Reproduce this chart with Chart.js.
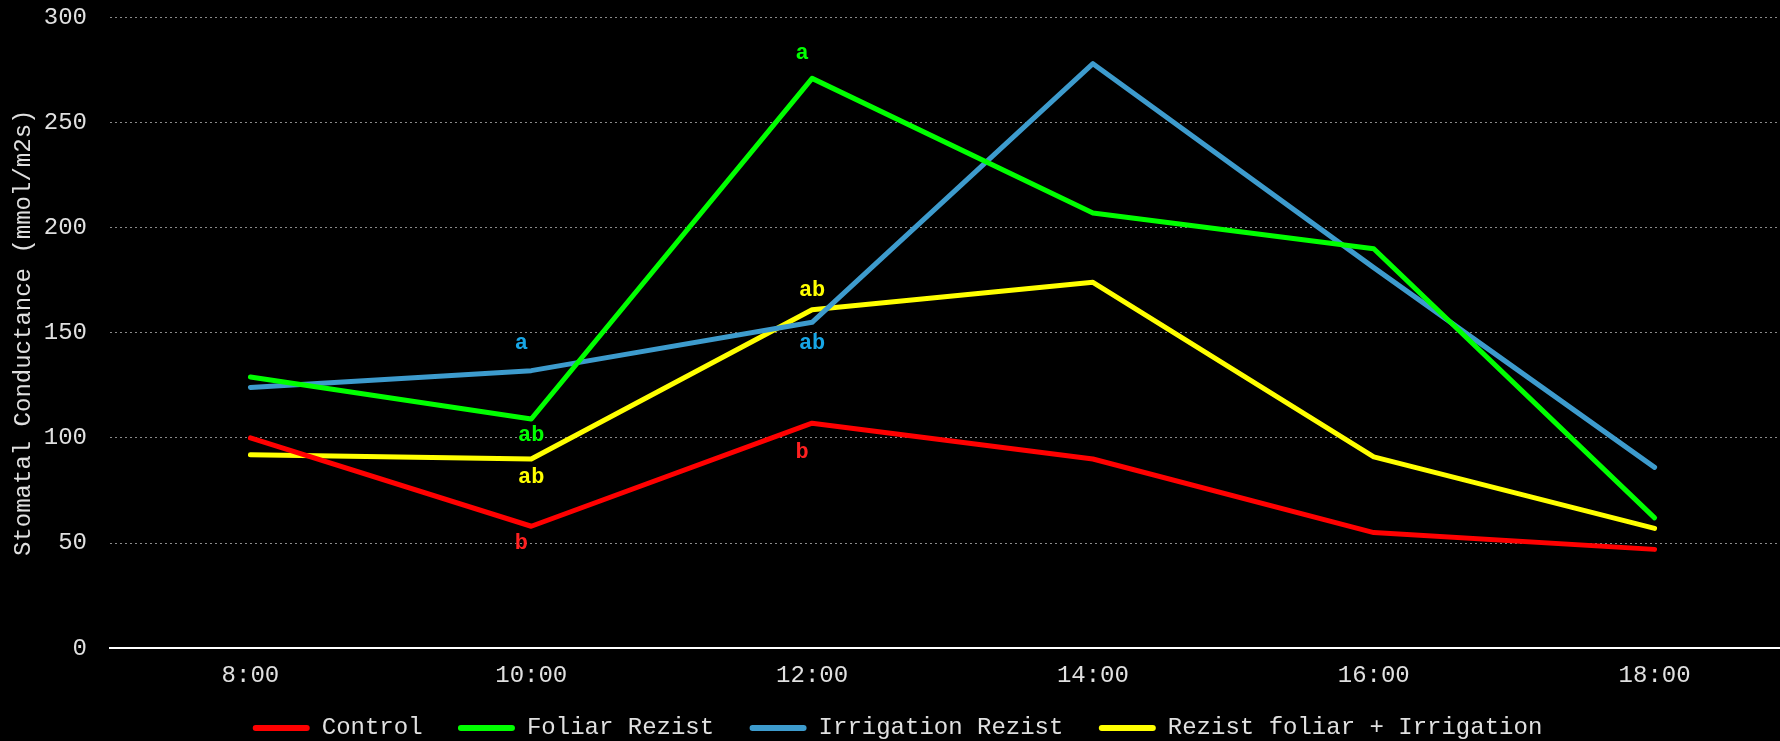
<!DOCTYPE html>
<html>
<head>
<meta charset="utf-8">
<script src="https://cdn.jsdelivr.net/npm/chart.js@4"></script>
<style>
  html, body { margin: 0; padding: 0; background: #000; overflow: hidden; }
  /* the plot runs slightly past the right edge of the window, as in the original */
  #wrap { width: 1795px; height: 741px; }
</style>
</head>
<body>
<div id="wrap"><canvas id="gsChart"></canvas></div>
<script>
const times = ["8:00", "10:00", "12:00", "14:00", "16:00", "18:00"];

const control = [100, 58, 107, 90, 55, 47];
const foliarRezist = [129, 109, 271, 207, 190, 62];
const irrigationRezist = [124, 132, 155, 278, 181, 86];
const foliarIrrigation = [92, 90, 161, 174, 91, 57];

// significance letters: which time, at what y value, text, series index
const letterTimes = ["12:00", "10:00", "10:00", "12:00", "12:00", "10:00", "10:00", "12:00"];
const letterValues = [283, 101, 145, 145, 170, 81, 50, 93];
const letterTexts = ["a", "ab", "a", "ab", "ab", "ab", "b", "b"];
const letterSeries = [1, 1, 2, 2, 3, 3, 0, 0];

const lineColors = ["#ff0000", "#00ff00", "#3d9bcd", "#ffff00"];
const letterColors = ["#ff2020", "#00ff00", "#17a6e6", "#ffff00"];

const monoFont = "'Courier New', 'Liberation Mono', monospace";

const letterPlugin = {
  id: "letters",
  afterDatasetsDraw(chart) {
    const ctx = chart.ctx;
    const x = chart.scales.x;
    const y = chart.scales.y;
    ctx.save();
    ctx.font = "bold 22px " + monoFont;
    ctx.textAlign = "center";
    ctx.textBaseline = "middle";
    letterTexts.forEach((t, i) => {
      // single letters sit a little left of the category, like the original
      const shift = t.length === 1 ? -10 : 0;
      ctx.fillStyle = letterColors[letterSeries[i]];
      ctx.fillText(t, x.getPixelForValue(times.indexOf(letterTimes[i])) + shift, y.getPixelForValue(letterValues[i]));
    });
    ctx.restore();
  }
};

function series(label, data, i) {
  return {
    label: label,
    data: data,
    borderColor: lineColors[i],
    backgroundColor: lineColors[i],
    borderWidth: 5,
    borderCapStyle: "round",
    borderJoinStyle: "round",
    pointRadius: 0,
    tension: 0
  };
}

Chart.defaults.font.family = monoFont;
Chart.defaults.font.size = 24;
Chart.defaults.color = "#e0e0e0";

new Chart(document.getElementById("gsChart").getContext("2d"), {
  type: "line",
  data: {
    labels: times,
    datasets: [
      series("Control", control, 0),
      series("Foliar Rezist", foliarRezist, 1),
      series("Irrigation Rezist", irrigationRezist, 2),
      series("Rezist foliar + Irrigation", foliarIrrigation, 3)
    ]
  },
  options: {
    responsive: true,
    maintainAspectRatio: false,
    animation: false,
    layout: { padding: { top: 0, right: 0, left: 0, bottom: -9 } },
    plugins: {
      legend: {
        position: "bottom",
        labels: {
          boxWidth: 57,
          boxHeight: 6,
          useBorderRadius: true,
          borderRadius: 3,
          padding: 21,
          color: "#e0e0e0",
          font: { size: 24 },
          generateLabels(chart) {
            const items = Chart.defaults.plugins.legend.labels.generateLabels(chart);
            items.forEach((it, i) => {
              it.lineWidth = 0;
              if (i < items.length - 1) it.text += " ";
            });
            return items;
          }
        }
      },
      tooltip: { enabled: false }
    },
    scales: {
      x: {
        offset: true,
        grid: { display: false },
        border: { display: true, color: "#ffffff", width: 2 },
        ticks: { padding: 5, color: "#e0e0e0" }
      },
      y: {
        min: 0,
        max: 300,
        ticks: { stepSize: 50, padding: 3, color: "#e0e0e0" },
        grid: {
          drawTicks: true,
          tickLength: 20,
          tickColor: "rgba(0,0,0,0)",
          color: (c) => (c.tick && c.tick.value === 0 ? "rgba(0,0,0,0)" : "#8a8a8a"),
          lineWidth: 1
        },
        border: { display: false, dash: [2, 3] },
        title: {
          display: true,
          text: "Stomatal Conductance (mmol/m2s)",
          color: "#e0e0e0",
          font: { size: 24 },
          padding: { top: 9, bottom: 3 }
        }
      }
    }
  },
  plugins: [letterPlugin]
});
</script>
</body>
</html>
